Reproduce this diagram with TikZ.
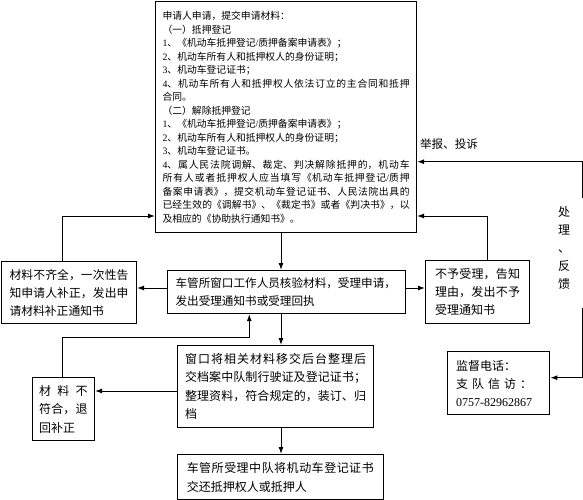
\documentclass[tikz,border=0pt]{standalone}
\usepackage{fontspec}
\setmainfont{Noto Sans CJK SC}
\newfontfamily\tnr{Liberation Serif}
\usetikzlibrary{arrows.meta,calc}
\XeTeXlinebreaklocale "zh"
\XeTeXlinebreakskip=0pt plus 10pt
\newcommand\jline[1]{\noindent#1{\parfillskip=0pt\par}}
\newcommand\nline[1]{\noindent#1\par}
\newcommand\dg[1]{{\tnr #1}}
\begin{document}
\begin{tikzpicture}[x=1pt,y=-1pt,
  box/.style={draw, line width=1.1pt, rectangle, anchor=north west, inner xsep=0pt, inner ysep=0pt, align=justify},
  arr/.style={line width=1pt, -{Latex[length=7pt,width=5pt]}},
  lbl/.style={inner sep=0pt}
]
\fill[white] (0,0) rectangle (583,500);
\useasboundingbox (0,0) rectangle (583,500);

% boxes
\node[box, minimum width=261pt, minimum height=231pt, text width=247pt, font=\fontsize{9.8pt}{13.5pt}\selectfont] (top) at (155,1) {%
\nline{申请人申请，提交申请材料：}
\nline{（一）抵押登记}
\nline{\dg{1}、《机动车抵押登记\dg{/}质押备案申请表》；}
\nline{\dg{2}、机动车所有人和抵押权人的身份证明；}
\nline{\dg{3}、机动车登记证书；}
\jline{\dg{4}、机动车所有人和抵押权人依法订立的主合同和抵押}
\nline{合同。}
\nline{（二）解除抵押登记}
\nline{\dg{1}、《机动车抵押登记\dg{/}质押备案申请表》；}
\nline{\dg{2}、机动车所有人和抵押权人的身份证明；}
\nline{\dg{3}、机动车登记证书。}
\jline{\dg{4}、属人民法院调解、裁定、判决解除抵押的，机动车}
\jline{所有人或者抵押权人应当填写《机动车抵押登记\dg{/}质押}
\jline{备案申请表》，提交机动车登记证书、人民法院出具的}
\jline{已经生效的《调解书》、《裁定书》或者《判决书》，以}
\nline{及相应的《协助执行通知书》。}
};

\node[box, minimum width=135pt, minimum height=62pt, text width=119pt, font=\fontsize{11.8pt}{18pt}\selectfont] (L1) at (1,261) {%
\jline{材料不齐全，一次性告}
\jline{知申请人补正，发出申}
\nline{请材料补正通知书}
};

\node[box, minimum width=238pt, minimum height=43pt, text width=222pt, font=\fontsize{11.6pt}{17.2pt}\selectfont] (C1) at (167,270) {%
\nline{车管所窗口工作人员核验材料，受理申请，}
\nline{发出受理通知书或受理回执}
};

\node[box, minimum width=104pt, minimum height=63pt, text width=85pt, font=\fontsize{12pt}{18pt}\selectfont] (R1) at (425,260) {%
\jline{不予受理，告知}
\jline{理由，发出不予}
\nline{受理通知书}
};

\node[box, minimum width=196.6pt, minimum height=81.7pt, text width=181pt, font=\fontsize{12pt}{18.1pt}\selectfont] (W) at (176.7,345) {%
\jline{窗口将相关材料移交后台整理后}
\jline{交档案中队制行驶证及登记证书；}
\jline{整理资料，符合规定的，装订、归}
\nline{档}
};

\node[box, minimum width=206pt, minimum height=45pt, text width=187pt, font=\fontsize{12pt}{19pt}\selectfont] (F) at (176.7,454) {%
\jline{车管所受理中队将机动车登记证书}
\nline{交还抵押权人或抵押人}
};

\node[box, minimum width=62.3pt, minimum height=62.7pt, text width=48.5pt, font=\fontsize{12pt}{18.5pt}\selectfont] (M) at (31.7,377.3) {%
\jline{材\hfil 料\hfil 不}
\jline{符合，退}
\nline{回补正}
};

\node[box, minimum width=102.6pt, minimum height=63pt, text width=85pt, font=\fontsize{12pt}{18pt}\selectfont] (S) at (446.7,351) {%
\nline{监督电话：}
\nline{\makebox[76pt][s]{支\hfil 队\hfil 信\hfil 访\hfil ：}}
\nline{\dg{0757-82962867}}
};

% labels
\node[lbl, font=\fontsize{11.6pt}{14pt}\selectfont] (lb1) at (449,144) {举报、投诉};
\node[lbl, align=center, font=\fontsize{12pt}{18pt}\selectfont] (lb2) at (564,247.5) {处\\理\\、\\反\\馈};

% helper coordinates
\coordinate (xa) at (281,0);
\coordinate (xl) at (62.3,0);
\coordinate (xr) at (487.7,0);
\coordinate (xf) at (249.3,0);
\coordinate (ya) at (0,288);
\coordinate (yb) at (0,216);
\coordinate (yc) at (0,161.7);
\coordinate (yd) at (0,377.7);
\coordinate (ye) at (0,391);
\coordinate (yf) at (0,337);
\coordinate (fb1) at (582,198);
\coordinate (fb2) at (582,308);

% connectors
\draw[arr] (top.south -| xa) -- (C1.north -| xa);
\draw[arr] (C1.west |- ya) -- (L1.east |- ya);
\draw[arr] (C1.east |- ya) -- (R1.west |- ya);
\draw[arr] (L1.north -| xl) |- (top.west |- yb);
\draw[arr] (R1.north -| xr) |- (top.east |- yb);
\draw[arr] (fb1) |- (top.east |- yc);
\draw[arr] (fb2) |- (S.east |- yd);
\draw[arr] (C1.south -| xa) -- (W.north -| xa);
\draw[arr] (W.west |- ye) -- (M.east |- ye);
\draw[arr] (M.north -| xl) |- (xf |- yf) -- (C1.south -| xf);
\draw[arr] (W.south -| xa) -- (F.north -| xa);
\end{tikzpicture}
\end{document}
